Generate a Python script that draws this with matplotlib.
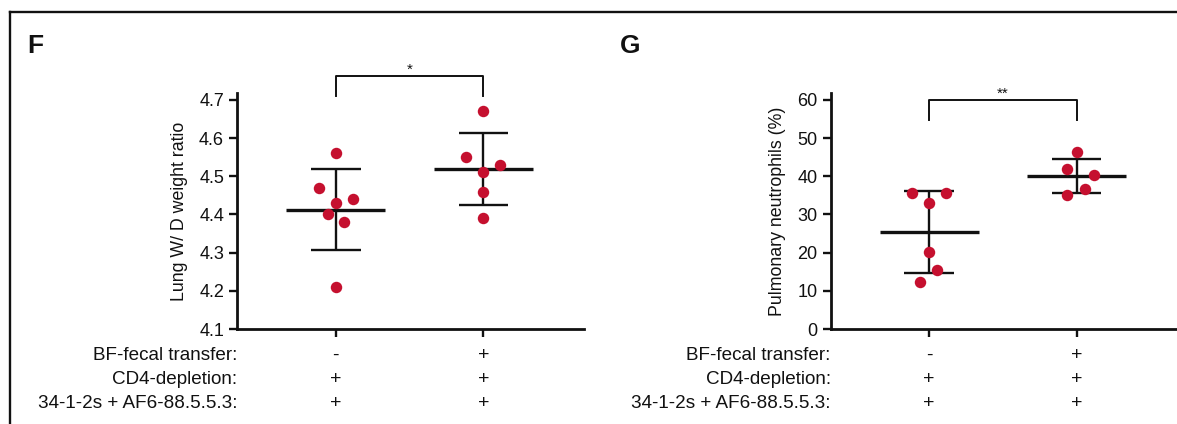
import numpy as np
import matplotlib.pyplot as plt
from matplotlib.lines import Line2D

plt.rcParams['font.family'] = ['Liberation Sans', 'DejaVu Sans']

# ---- data ----
lung_minus = [4.56, 4.47, 4.43, 4.44, 4.40, 4.38, 4.21]
lung_minus_jit = [0.0, -0.113, 0.0, 0.115, -0.056, 0.056, 0.0]
lung_plus = [4.67, 4.55, 4.53, 4.51, 4.46, 4.39]
lung_plus_jit = [0.0, -0.12, 0.113, 0.0, 0.0, 0.0]

neut_minus = [35.7, 35.6, 33.1, 20.1, 15.5, 12.4]
neut_minus_jit = [-0.115, 0.117, 0.0, 0.0, 0.056, -0.06]
neut_plus = [46.3, 42.0, 40.2, 36.7, 35.1]
neut_plus_jit = [0.0, -0.063, 0.115, 0.056, -0.063]

row_titles = ['BF-fecal transfer:', 'CD4-depletion:', '34-1-2s + AF6-88.5.5.3:']
row_signs = [['-', '+'], ['+', '+'], ['+', '+']]

RED = '#C5102F'
INK = '#111111'
W, H = 1177, 424

fig = plt.figure(figsize=(W / 100, H / 100), dpi=100)

# panel frame (top + left lines)
fig.add_artist(Line2D([10 / W, 1], [1 - 12 / H, 1 - 12 / H], color=INK, lw=1.7))
fig.add_artist(Line2D([10 / W, 10 / W], [0, 1 - 12 / H], color=INK, lw=1.7))


def panel(rect, groups, jits, ylim, yticks, ylabel, letter, letter_x, star, brk):
    ax = fig.add_axes(rect)
    xpos = [0, 1]
    for x0, vals, jit in zip(xpos, groups, jits):
        vals = np.array(vals)
        m, sd = vals.mean(), vals.std(ddof=1)
        ax.hlines(m, x0 - 0.335, x0 + 0.335, color=INK, lw=2.4, zorder=2)
        ax.vlines(x0, m - sd, m + sd, color=INK, lw=1.7, zorder=2)
        ax.hlines([m - sd, m + sd], x0 - 0.168, x0 + 0.168, color=INK, lw=1.7, zorder=2)
        ax.scatter(x0 + np.array(jit), vals, s=68, color=RED, lw=0, zorder=3)

    ax.set_xlim(-0.667, 1.68)
    ax.set_ylim(*ylim)
    ax.set_yticks(yticks)
    ax.set_xticks(xpos)
    ax.set_xticklabels([])
    for s in ['top', 'right']:
        ax.spines[s].set_visible(False)
    for s in ['left', 'bottom']:
        ax.spines[s].set_linewidth(2.0)
        ax.spines[s].set_color(INK)
    ax.tick_params(axis='both', width=1.7, length=5.5, color=INK, labelsize=13,
                   labelcolor=INK, pad=4)
    ax.set_ylabel(ylabel, fontsize=12.8, color=INK, labelpad=8)

    # significance bracket
    ytop, yleg = brk
    ax.plot([0, 0, 1, 1], [yleg, ytop, ytop, yleg], color=INK, lw=1.4, clip_on=False)
    ax.annotate(star, xy=(0.5, ytop), xytext=(0, 6), textcoords='offset pixels',
                ha='center', va='center', fontsize=11, color=INK, annotation_clip=False)

    # condition rows under the axis
    for i, (title, signs) in enumerate(zip(row_titles, row_signs)):
        dy = -26 - 24.5 * i
        ax.annotate(title, xy=(0, 0), xycoords='axes fraction', xytext=(0, dy),
                    textcoords='offset pixels', ha='right', va='center',
                    fontsize=13.6, color=INK, annotation_clip=False)
        for x0, sgn in zip(xpos, signs):
            ax.annotate(sgn, xy=(x0, 0), xycoords=('data', 'axes fraction'),
                        xytext=(0, dy), textcoords='offset pixels', ha='center',
                        va='center', fontsize=14, color=INK, annotation_clip=False)

    fig.text(letter_x / W, 1 - 53 / H, letter, ha='left', va='baseline',
             fontsize=19, fontweight='bold', color=INK)
    return ax


bottom = (H - 329) / H
height = (329 - 93) / H

panel([237.3 / W, bottom, 346.5 / W, height],
      [lung_minus, lung_plus], [lung_minus_jit, lung_plus_jit],
      (4.1, 4.718), [4.1, 4.2, 4.3, 4.4, 4.5, 4.6, 4.7],
      'Lung W/ D weight ratio', 'F', 27, '*', (4.763, 4.711))

panel([830.7 / W, bottom, (W - 830.7) / W, height],
      [neut_minus, neut_plus], [neut_minus_jit, neut_plus_jit],
      (0, 61.8), [0, 10, 20, 30, 40, 50, 60],
      'Pulmonary neutrophils (%)', 'G', 620, '**', (60, 54.8))

fig.savefig('out.png', dpi=100)
